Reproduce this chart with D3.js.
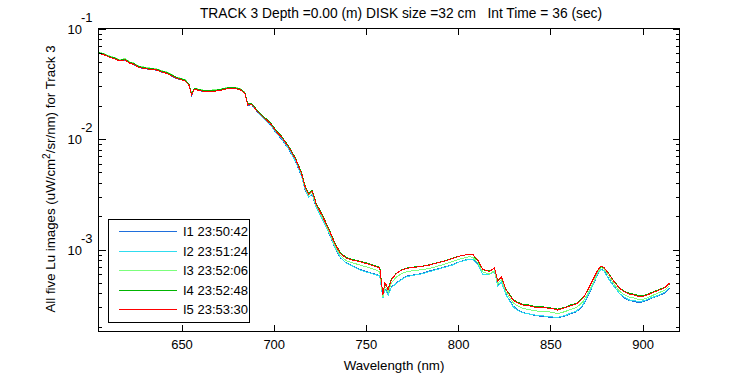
<!DOCTYPE html>
<html>
<head>
<meta charset="utf-8">
<script src="https://cdn.jsdelivr.net/npm/d3@7"></script>
<style>
body { margin: 0; background: #fff; }
svg { display: block; font-family: "Liberation Sans", Arial, sans-serif; }
.ax line { stroke: #000; shape-rendering: crispEdges; }
.ax text { fill: #000; font-size: 13px; font-family: "Liberation Sans", Arial, sans-serif; }
.trace { fill: none; stroke-width: 1; shape-rendering: crispEdges; }
</style>
</head>
<body>
<svg id="chart" width="750" height="375"></svg>
<script>
// Lu spectra, five images of track 3. Values are in 1e-3 uW/cm^2/sr/nm.
var wavelength = [
    605, 608, 611, 614, 616.6, 619.3, 622, 624, 627, 630,
    633, 636.5, 639, 642, 645, 647.3, 650, 652, 654, 655.5,
    657, 660, 663, 666, 669, 672, 676, 679, 682, 684.3,
    686, 688, 690.5, 694, 698, 701.5, 704, 708, 712, 715,
    717, 719, 720.8, 723, 726.7, 730.4, 733, 736, 739.4, 743,
    746.6, 751, 755.6, 757.5, 759.2, 760.2, 761, 762, 763.7, 766.5,
    769, 772, 776, 780, 784.5, 788, 792, 797, 801, 806,
    808, 810.7, 813.4, 817, 819.7, 821.5, 823.4, 826, 829.7, 832,
    835, 838, 842, 846, 849.5, 852, 854, 856, 858.6, 861,
    864, 866, 867.6, 870.3, 873, 875.7, 877.5, 879, 880.2, 882,
    883.8, 887.4, 890, 892.9, 895, 898.3, 901, 903.7, 906, 909,
    912, 914.5
];

var lu_I1 = [
    59.5, 57.6, 55.0, 52.9, 50.7, 51.9, 48.5, 47.3, 44.3, 43.4,
    42.5, 42.0, 40.4, 39.2, 36.9, 35.3, 34.3, 33.4, 30.7, 24.9,
    28.1, 27.3, 26.8, 27.0, 27.2, 27.8, 28.9, 28.8, 27.9, 25.9,
    20.2, 20.4, 18.1, 15.6, 13.5, 11.2, 10.1, 8.15, 6.15, 4.62,
    3.48, 2.96, 3.16, 2.4, 1.82, 1.35, 1.05, 0.845, 0.755, 0.71,
    0.66, 0.625, 0.595, 0.58, 0.365, 0.435, 0.425, 0.39, 0.455, 0.50,
    0.535, 0.575, 0.59, 0.605, 0.64, 0.66, 0.69, 0.73, 0.78, 0.82,
    0.815, 0.73, 0.595, 0.60, 0.625, 0.47, 0.515, 0.39, 0.31, 0.285,
    0.27, 0.262, 0.252, 0.248, 0.244, 0.24, 0.24, 0.246, 0.252, 0.262,
    0.273, 0.29, 0.31, 0.38, 0.47, 0.60, 0.66, 0.645, 0.595, 0.535,
    0.482, 0.40, 0.365, 0.345, 0.34, 0.33, 0.34, 0.355, 0.368, 0.383,
    0.405, 0.445
];
var lu_I2 = [
    59.9, 58.0, 55.3, 53.2, 51.0, 52.2, 48.8, 47.6, 44.6, 43.7,
    42.8, 42.3, 40.7, 39.5, 37.2, 35.6, 34.6, 33.7, 31.0, 25.1,
    28.4, 27.6, 27.0, 27.3, 27.5, 28.1, 29.2, 29.0, 28.1, 26.1,
    20.4, 20.6, 18.2, 15.7, 13.6, 11.3, 10.2, 8.2, 6.2, 4.65,
    3.5, 2.98, 3.18, 2.42, 1.83, 1.36, 1.06, 0.85, 0.75, 0.705,
    0.652, 0.62, 0.589, 0.575, 0.363, 0.43, 0.42, 0.385, 0.45, 0.494,
    0.53, 0.568, 0.585, 0.60, 0.631, 0.655, 0.685, 0.724, 0.776, 0.815,
    0.81, 0.724, 0.589, 0.597, 0.631, 0.463, 0.51, 0.387, 0.304, 0.283,
    0.268, 0.262, 0.255, 0.251, 0.247, 0.244, 0.243, 0.248, 0.255, 0.266,
    0.277, 0.295, 0.315, 0.387, 0.478, 0.608, 0.662, 0.64, 0.589, 0.53,
    0.478, 0.402, 0.37, 0.349, 0.345, 0.337, 0.345, 0.361, 0.372, 0.387,
    0.41, 0.452
];
var lu_I3 = [
    61.0, 59.2, 56.4, 54.3, 52.1, 53.4, 49.8, 48.7, 45.6, 44.7,
    43.8, 43.2, 41.6, 40.4, 38.0, 36.3, 35.3, 34.4, 31.6, 25.7,
    28.9, 28.1, 27.5, 27.7, 27.9, 28.5, 29.5, 29.4, 28.5, 26.5,
    20.8, 21.1, 18.7, 16.2, 14.1, 11.7, 10.6, 8.55, 6.5, 4.85,
    3.64, 3.1, 3.3, 2.5, 1.9, 1.40, 1.10, 0.885, 0.79, 0.755,
    0.725, 0.69, 0.65, 0.63, 0.37, 0.46, 0.445, 0.41, 0.495, 0.565,
    0.60, 0.63, 0.645, 0.655, 0.675, 0.70, 0.73, 0.78, 0.82, 0.86,
    0.85, 0.755, 0.625, 0.60, 0.645, 0.49, 0.535, 0.41, 0.33, 0.31,
    0.293, 0.287, 0.278, 0.276, 0.272, 0.268, 0.262, 0.268, 0.277, 0.287,
    0.298, 0.316, 0.337, 0.40, 0.495, 0.62, 0.685, 0.665, 0.625, 0.565,
    0.505, 0.42, 0.39, 0.37, 0.365, 0.35, 0.357, 0.372, 0.388, 0.408,
    0.428, 0.47
];
var lu_I4 = [
    60.5, 58.6, 55.8, 53.9, 51.6, 52.9, 49.4, 48.2, 45.2, 44.2,
    43.3, 42.8, 41.2, 40.0, 37.6, 36.0, 35.0, 34.1, 31.4, 25.6,
    28.7, 27.9, 27.3, 27.4, 27.7, 28.3, 29.3, 29.1, 28.3, 26.4,
    20.8, 21.0, 18.7, 16.2, 14.2, 11.8, 10.7, 8.7, 6.6, 5.0,
    3.78, 3.22, 3.44, 2.63, 2.0, 1.48, 1.16, 0.94, 0.845, 0.81,
    0.785, 0.75, 0.705, 0.69, 0.39, 0.49, 0.47, 0.44, 0.535, 0.61,
    0.65, 0.68, 0.695, 0.705, 0.73, 0.755, 0.785, 0.835, 0.875, 0.905,
    0.895, 0.79, 0.655, 0.64, 0.675, 0.52, 0.56, 0.435, 0.355, 0.335,
    0.318, 0.315, 0.305, 0.302, 0.298, 0.292, 0.288, 0.295, 0.302, 0.315,
    0.325, 0.345, 0.365, 0.425, 0.525, 0.645, 0.70, 0.685, 0.655, 0.595,
    0.535, 0.452, 0.42, 0.40, 0.395, 0.38, 0.385, 0.40, 0.415, 0.435,
    0.455, 0.485
];
var lu_I5 = [
    59.7, 57.8, 55.0, 53.0, 50.8, 52.0, 48.6, 47.4, 44.4, 43.5,
    42.6, 42.1, 40.5, 39.3, 37.0, 35.4, 34.4, 33.5, 30.8, 25.0,
    28.2, 27.4, 26.8, 27.0, 27.2, 27.8, 28.8, 28.6, 27.8, 25.9,
    20.3, 20.6, 18.3, 15.9, 13.9, 11.6, 10.5, 8.5, 6.5, 4.9,
    3.7, 3.16, 3.38, 2.58, 1.96, 1.45, 1.14, 0.925, 0.832, 0.80,
    0.776, 0.74, 0.698, 0.68, 0.387, 0.50, 0.478, 0.43, 0.53, 0.608,
    0.645, 0.676, 0.69, 0.70, 0.724, 0.75, 0.78, 0.832, 0.873, 0.91,
    0.90, 0.80, 0.662, 0.631, 0.684, 0.512, 0.568, 0.43, 0.349, 0.33,
    0.315, 0.31, 0.30, 0.298, 0.294, 0.29, 0.283, 0.29, 0.30, 0.31,
    0.321, 0.34, 0.361, 0.43, 0.53, 0.652, 0.71, 0.69, 0.652, 0.59,
    0.53, 0.446, 0.415, 0.395, 0.39, 0.374, 0.38, 0.395, 0.41, 0.43,
    0.45, 0.494
];

var seriesNames = ['I1 23:50:42', 'I2 23:51:24', 'I3 23:52:06', 'I4 23:52:48', 'I5 23:53:30'];
var seriesColors = ['#1f6fdc', '#30dcef', '#7cff7c', '#00b400', '#ff0000'];
var seriesValues = [lu_I1, lu_I2, lu_I3, lu_I4, lu_I5];

var xTicks = [650, 700, 750, 800, 850, 900];
var yMajor = [1e-3, 1e-2, 1e-1];
var yMajorExp = ['-3', '-2', '-1'];

(function () {
    var svg = d3.select('#chart');
    var L = 98.5, R = 679.5, T = 28.5, B = 331;

    var x = d3.scaleLinear().domain([605, 920]).range([L, R]);
    var y = d3.scaleLog().domain([1.83e-4, 1e-1]).range([B, T]);

    // minor log ticks 2..9 inside the visible range
    var yMinor = [];
    [1e-4, 1e-3, 1e-2].forEach(function (dec) {
        for (var k = 2; k <= 9; k++) {
            var v = k * dec;
            if (v >= y.domain()[0] && v < y.domain()[1]) yMinor.push(v);
        }
    });

    // traces, I1 first so I5 ends up on top
    var line = d3.line()
        .x(function (d) { return x(d[0]); })
        .y(function (d) { return y(d[1] * 1e-3); });
    seriesValues.forEach(function (vals, i) {
        var pts = wavelength.map(function (w, j) { return [w, vals[j]]; });
        svg.append('path').datum(pts)
            .attr('class', 'trace')
            .attr('stroke', seriesColors[i])
            .attr('d', line);
    });

    // axes, ticks pointing inward
    function axis(gen, tx, ty) {
        var g = svg.append('g').attr('class', 'ax')
            .attr('transform', 'translate(' + tx + ',' + ty + ')')
            .call(gen);
        g.select('.domain').remove();
        return g;
    }
    axis(d3.axisBottom(x).tickValues(xTicks).tickSize(-6).tickPadding(9)
        .tickFormat(d3.format('d')), 0, B);
    axis(d3.axisTop(x).tickValues(xTicks).tickSize(-6).tickFormat(''), 0, T);

    var yl = axis(d3.axisLeft(y).tickValues(yMajor).tickSize(-7).tickFormat(''), L, 0);
    axis(d3.axisLeft(y).tickValues(yMinor).tickSize(-3.5).tickFormat(''), L, 0);
    axis(d3.axisRight(y).tickValues(yMajor).tickSize(-7).tickFormat(''), R, 0);
    axis(d3.axisRight(y).tickValues(yMinor).tickSize(-3.5).tickFormat(''), R, 0);

    yl.selectAll('.tick').each(function (d) {
        var t = d3.select(this);
        t.append('text').attr('x', -16.5).attr('dy', '0.35em')
            .attr('text-anchor', 'end').text('10');
        t.append('text').attr('x', -17.5).attr('y', -12).attr('dy', '0.35em')
            .attr('text-anchor', 'start').text(yMajorExp[yMajor.indexOf(d)]);
    });

    // frame
    svg.append('rect')
        .attr('x', L).attr('y', T).attr('width', R - L).attr('height', B - T)
        .attr('fill', 'none').attr('stroke', '#000')
        .style('shape-rendering', 'crispEdges');

    // titles
    svg.append('text')
        .attr('x', 401).attr('y', 18)
        .attr('text-anchor', 'middle').style('font-size', '13.8px')
        .attr('xml:space', 'preserve')
        .text('TRACK 3 Depth =0.00 (m) DISK size =32 cm   Int Time = 36 (sec)');

    svg.append('text')
        .attr('x', 394).attr('y', 370)
        .attr('text-anchor', 'middle').style('font-size', '13.3px')
        .text('Wavelength (nm)');

    var yt = svg.append('text')
        .attr('transform', 'translate(55,179) rotate(-90)')
        .attr('text-anchor', 'middle').style('font-size', '13.3px');
    yt.append('tspan').text('All five Lu images (uW/cm');
    yt.append('tspan').attr('dy', -5).style('font-size', '10px').text('2');
    yt.append('tspan').attr('dy', 5).text('/sr/nm) for Track 3');

    // legend
    var lg = svg.append('g').attr('class', 'ax');
    lg.append('rect')
        .attr('x', 108.5).attr('y', 219.5).attr('width', 141).attr('height', 103)
        .attr('fill', '#fff').attr('stroke', '#000')
        .style('shape-rendering', 'crispEdges');
    var rowY = d3.scalePoint().domain(seriesNames).range([231.5, 309.5]);
    seriesNames.forEach(function (name, i) {
        lg.append('line')
            .attr('x1', 119).attr('x2', 177)
            .attr('y1', rowY(name)).attr('y2', rowY(name))
            .style('stroke', seriesColors[i]);
        lg.append('text')
            .attr('x', 183).attr('y', rowY(name)).attr('dy', '0.35em')
            .text(name);
    });
})();
</script>
</body>
</html>
